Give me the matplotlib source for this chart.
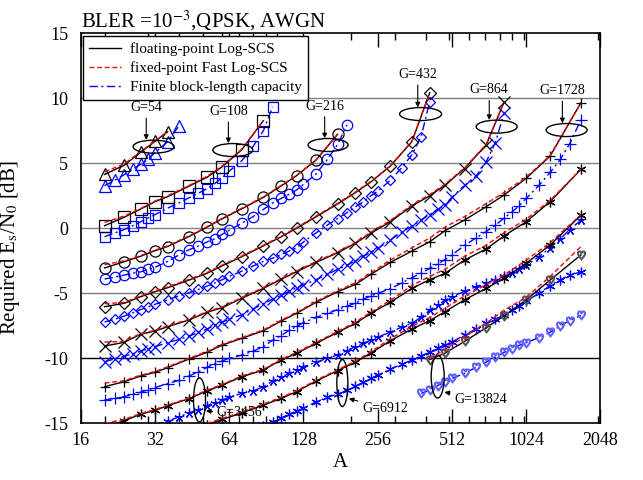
import numpy as np
import matplotlib
matplotlib.use("Agg")
import matplotlib.pyplot as plt
from matplotlib.patches import Ellipse

plt.rcParams['font.family'] = ['Liberation Serif', 'DejaVu Serif']
plt.rcParams['mathtext.fontset'] = 'stix'

# ---------------- data ----------------
# floating-point / fixed-point decoders share the same A points per G
A54 = [20, 24, 28, 32, 36]
float54 = [4.15, 4.85, 5.85, 6.68, 7.43]
fixed54 = [4.35, 4.95, 5.9, 6.72, 7.45]
capA54 = [20, 22, 24, 26, 28, 30, 32, 36, 40]
cap54 = [3.28, 3.69, 4.12, 4.54, 4.92, 5.3, 5.82, 6.66, 7.87]

A108 = [20, 24, 28, 32, 36, 44, 52, 60, 72, 88]
float108 = [0.2, 0.85, 1.48, 2.05, 2.43, 3.25, 3.92, 4.74, 6.05, 8.28]
fixed108 = [0.45, 0.95, 1.52, 2.1, 2.5, 3.3, 4.0, 4.8, 6.1, 8.3]
capA108 = [20, 22, 24, 26, 28, 30, 32, 36, 40, 44, 48, 52, 56, 60, 64, 72, 80, 88, 96]
cap108 = [-0.65, -0.35, -0.1, 0.2, 0.5, 0.8, 1.05, 1.55, 1.95, 2.35, 2.7, 3.05, 3.45, 3.9,
          4.4, 5.2, 6.3, 7.5, 9.35]

A216 = [20, 24, 28, 32, 36, 44, 52, 60, 72, 88, 104, 120, 144, 176]
float216 = [-3.05, -2.57, -2.15, -1.72, -1.4, -0.63, 0.08, 0.74, 1.5, 2.38, 3.26, 4.05, 5.25, 7.23]
fixed216 = [-2.8, -2.5, -2.1, -1.68, -1.35, -0.58, 0.12, 0.78, 1.55, 2.42, 3.3, 4.08, 5.28, 7.25]
capA216 = [20, 22, 24, 26, 28, 30, 32, 36, 40, 44, 48, 52, 56, 60, 64, 72, 80, 88, 96, 104,
           112, 120, 128, 144, 160, 176, 192]
cap216 = [-3.9, -3.75, -3.6, -3.45, -3.35, -3.15, -3.0, -2.55, -2.05, -1.65, -1.35, -1.05, -0.8,
          -0.45, -0.15, 0.4, 0.9, 1.45, 1.95, 2.3, 2.62, 2.95, 3.38, 4.18, 5.3, 6.45, 7.95]

A432 = [20, 24, 28, 32, 36, 44, 52, 60, 72, 88, 104, 120, 144, 176, 208, 240, 288, 352, 416]
float432 = [-6.03, -5.77, -5.26, -4.88, -4.57, -3.98, -3.46, -2.88, -2.18, -1.35, -0.65, 0.0,
            0.89, 1.87, 2.75, 3.56, 4.79, 6.66, 10.43]
fixed432 = [-5.8, -5.7, -5.2, -4.82, -4.5, -3.92, -3.4, -2.82, -2.12, -1.3, -0.6, 0.05,
            0.95, 1.92, 2.8, 3.6, 4.82, 6.68, 10.43]
capA432 = [20, 22, 24, 26, 28, 30, 32, 36, 40, 44, 48, 52, 56, 60, 64, 72, 80, 88, 96, 104,
           112, 120, 128, 144, 160, 176, 192, 208, 224, 240, 256, 288, 320, 352, 384, 416]
cap432 = [-7.2, -7.0, -6.75, -6.5, -6.25, -6.05, -5.85, -5.5, -5.2, -4.95, -4.7, -4.45, -4.2,
          -3.95, -3.7, -3.3, -2.9, -2.55, -2.3, -2.0, -1.75, -1.5, -1.05, -0.35, 0.25, 0.75,
          1.2, 1.65, 2.05, 2.5, 2.85, 3.7, 4.65, 5.65, 7.05, 9.75]

A864 = [20, 24, 28, 32, 36, 44, 52, 60, 72, 88, 104, 120, 144, 176, 208, 240, 288, 352, 416,
        480, 576, 704, 832]
float864 = [-9.06, -8.77, -8.15, -7.9, -7.57, -7.05, -6.46, -6.1, -5.38, -4.62, -3.92, -3.34,
            -2.62, -1.88, -1.15, -0.38, 0.51, 1.72, 2.5, 3.33, 4.6, 6.4, 9.7]
fixed864 = [-8.75, -8.7, -8.1, -7.85, -7.5, -7.0, -6.4, -6.05, -5.32, -4.56, -3.87, -3.28,
            -2.55, -1.82, -1.1, -0.3, 0.6, 1.8, 2.6, 3.4, 4.65, 6.45, 9.7]
capA864 = [20, 22, 24, 26, 28, 30, 32, 36, 40, 44, 48, 52, 56, 60, 64, 72, 80, 88, 96, 104,
           112, 120, 128, 144, 160, 176, 192, 208, 224, 240, 256, 288, 320, 352, 384, 416,
           448, 480, 512, 576, 640, 704, 768, 832]
cap864 = [-10.25, -10.05, -9.85, -9.65, -9.45, -9.28, -9.1, -8.8, -8.55, -8.3, -8.0, -7.75,
          -7.45, -7.2, -7.0, -6.65, -6.2, -5.8, -5.45, -5.15, -4.85, -4.57, -4.35, -3.95,
          -3.55, -3.15, -2.85, -2.5, -2.15, -1.85, -1.55, -0.9, -0.3, 0.15, 0.65, 1.05, 1.45,
          1.8, 2.4, 3.3, 4.0, 5.1, 6.6, 8.85]

A1728 = [20, 24, 28, 32, 36, 44, 52, 60, 72, 88, 104, 120, 144, 176, 208, 240, 288, 352, 416,
         480, 576, 704, 832, 1024, 1280, 1706]
float1728 = [-12.18, -11.8, -11.36, -11.08, -10.72, -10.05, -9.54, -8.98, -8.46, -7.88, -7.13,
             -6.54, -5.69, -4.88, -4.31, -3.54, -2.62, -1.75, -1.03, -0.18, 0.64, 1.66, 2.56,
             3.85, 5.56, 9.66]
fixed1728 = [-11.9, -11.72, -11.3, -11.02, -10.66, -10.0, -9.48, -8.92, -8.4, -7.82, -7.07,
             -6.48, -5.62, -4.8, -4.2, -3.42, -2.45, -1.5, -0.75, 0.1, 0.9, 1.9, 2.75, 3.95,
             5.6, 9.66]
capA1728 = [20, 22, 24, 26, 28, 30, 32, 36, 40, 44, 48, 52, 56, 60, 64, 72, 80, 88, 96, 104,
            112, 120, 128, 144, 160, 176, 192, 208, 224, 240, 256, 288, 320, 352, 384, 416,
            448, 480, 512, 576, 640, 704, 768, 832, 896, 960, 1024, 1152, 1280, 1408, 1536,
            1706]
cap1728 = [-13.2, -13.08, -12.95, -12.78, -12.6, -12.42, -12.25, -11.95, -11.7, -11.35, -11.05,
           -10.7, -10.4, -10.2, -10.0, -9.75, -9.45, -9.1, -8.6, -8.25, -7.85, -7.55, -7.25,
           -6.85, -6.55, -6.25, -6.0, -5.75, -5.45, -5.2, -5.0, -4.65, -4.2, -3.8, -3.45,
           -3.08, -2.75, -2.4, -2.05, -1.3, -0.75, -0.25, 0.25, 0.77, 1.25, 1.75, 2.3, 3.3,
           4.3, 5.3, 6.5, 8.35]

A3456 = [20, 24, 28, 32, 36, 44, 52, 60, 72, 88, 104, 120, 144, 176, 208, 240, 288, 352, 416,
         480, 576, 704, 832, 1024, 1280, 1706]
float3456 = [-15.3, -14.8, -14.3, -14.0, -13.65, -13.1, -12.52, -12.05, -11.42, -10.9, -10.13,
             -9.62, -8.85, -8.0, -7.31, -6.54, -5.69, -4.62, -3.95, -3.46, -2.44, -1.59,
             -0.59, 0.51, 2.05, 4.54]
fixed3456 = [-15.0, -14.7, -14.25, -13.95, -13.6, -13.05, -12.45, -12.0, -11.35, -10.85,
             -10.07, -9.55, -8.78, -7.93, -7.22, -6.45, -5.55, -4.4, -3.7, -3.15, -2.15,
             -1.3, -0.35, 0.7, 2.15, 4.54]
capA3456 = [32, 36, 40, 44, 48, 52, 56, 60, 64, 72, 80, 88, 96, 104, 112, 120, 128, 144, 160,
            176, 192, 208, 224, 240, 256, 288, 320, 352, 384, 416, 448, 480, 512, 576, 640,
            704, 768, 832, 896, 960, 1024, 1152, 1280, 1408, 1536, 1706]
cap3456 = [-15.1, -14.85, -14.5, -14.2, -13.95, -13.65, -13.4, -13.2, -13.0, -12.7, -12.5,
           -12.2, -11.75, -11.45, -11.15, -10.9, -10.65, -10.3, -10.0, -9.75, -9.4, -9.1,
           -8.85, -8.6, -8.35, -8.0, -7.6, -7.3, -6.85, -6.3, -5.9, -5.55, -5.25, -4.85, -4.5,
           -4.2, -3.95, -3.7, -3.4, -3.1, -2.85, -2.2, -1.5, -0.8, -0.1, 0.62]

A6912 = [52, 60, 72, 88, 104, 120, 144, 176, 208, 240, 288, 352, 416, 480, 576, 704, 832,
         1024, 1280, 1706]
float6912 = [-15.1, -14.7, -14.2, -13.6, -13.08, -12.57, -11.75, -10.95, -10.3, -9.6, -8.65,
             -7.75, -7.1, -6.41, -5.5, -4.62, -3.85, -2.69, -1.28, 1.0]
fixed6912 = [-15.0, -14.62, -14.12, -13.52, -13.0, -12.5, -11.68, -10.88, -10.22, -9.5,
             -8.5, -7.55, -6.85, -6.15, -5.2, -4.35, -3.6, -2.45, -1.1, 1.05]
capA6912 = [88, 96, 104, 112, 120, 128, 144, 160, 176, 192, 208, 224, 240, 256, 288, 320, 352,
            384, 416, 448, 480, 512, 576, 640, 704, 768, 832, 896, 960, 1024, 1152, 1280,
            1408, 1536, 1706]
cap6912 = [-15.2, -14.9, -14.6, -14.3, -14.05, -13.85, -13.35, -13.0, -12.75, -12.45, -12.15,
           -11.85, -11.55, -11.3, -10.85, -10.45, -10.15, -9.8, -9.55, -9.2, -8.98, -8.75,
           -8.2, -7.75, -7.31, -7.0, -6.67, -6.3, -5.95, -5.6, -5.0, -4.4, -3.95, -3.6, -3.35]

A13824 = [416, 480, 576, 704, 832, 1024, 1280, 1706]
float13824 = [-10.1, -9.6, -8.7, -7.65, -6.75, -5.5, -3.98, -2.05]
fixed13824 = [-10.0, -9.3, -8.35, -7.3, -6.3, -5.3, -3.7, -1.4]
capA13824 = [384, 416, 448, 480, 512, 576, 640, 704, 768, 832, 896, 960, 1024, 1152, 1280,
             1408, 1536, 1706]
cap13824 = [-12.7, -12.45, -12.1, -11.8, -11.55, -11.15, -10.7, -10.3, -9.9, -9.55, -9.25,
            -9.0, -8.8, -8.4, -8.0, -7.5, -7.1, -6.7]

# G labels: text position, arrow tip, ellipse centre (A, dB) and ellipse size in pixels
g_labels = ['G=54', 'G=108', 'G=216', 'G=432', 'G=864', 'G=1728', 'G=3456', 'G=6912', 'G=13824']
g_text = [(29.5, 9.3), (63.5, 9.0), (156, 9.4), (372, 11.85), (725, 10.65), (1435, 10.6),
          (57, -14.2), (221, -13.85), (523, -13.13)]
g_tip = [(29.5, 6.8), (63.5, 6.55), (156, 6.92), (372, 9.3), (725, 8.33), (1435, 8.08),
         (51.5, -14.05), (195.5, -13.1), (477, -12.6)]
g_ell = [(31.6, 6.28), (66.2, 6.02), (161, 6.41), (382, 8.79), (777, 7.82), (1493, 7.56),
         (48.5, -13.2), (184, -11.9), (448, -11.4)]
g_ell_px = [(41, 13), (40, 13), (40, 13), (42, 13), (41, 13), (41, 13),
            (12, 44), (11, 47), (13, 43)]

x_major = [16, 32, 64, 128, 256, 512, 1024, 2048]
x_minor = [20, 30, 40, 50, 60, 70, 80, 90, 100, 200, 300, 400, 500, 600, 700, 800, 900,
           1000, 2000]
y_ticks = [-15, -10, -5, 0, 5, 10, 15]

# ---------------- figure ----------------
fig = plt.figure(figsize=(6.43, 4.80), dpi=100)
ax = fig.add_axes([0.1255, 0.1181, 0.8084, 0.8125])

for yv in [10, 5, 0, -5]:
    ax.axhline(yv, color='#808080', lw=1.0, zorder=1)
ax.axhline(-10, color='k', lw=1.0, zorder=1)

HEART = r'$\heartsuit$'
groups = [
    (A54, float54, fixed54, capA54, cap54, '^', '^', 8, 8, 'k', 'blue'),
    (A108, float108, fixed108, capA108, cap108, 's', 's', 8, 7, 'k', 'blue'),
    (A216, float216, fixed216, capA216, cap216, 'o', 'o', 8, 7.5, 'k', 'blue'),
    (A432, float432, fixed432, capA432, cap432, 'D', 'D', 6, 5.5, 'k', 'blue'),
    (A864, float864, fixed864, capA864, cap864, 'x', 'x', 8, 8, 'k', 'blue'),
    (A1728, float1728, fixed1728, capA1728, cap1728, '+', '+', 7, 8, 'k', 'blue'),
    (A3456, float3456, fixed3456, capA3456, cap3456, (6, 2, 0), (5, 2, 0), 7, 7, 'k', 'blue'),
    (A6912, float6912, fixed6912, capA6912, cap6912, (6, 2, 0), (6, 2, 0), 7, 7, 'k', 'blue'),
    (A13824, float13824, fixed13824, capA13824, cap13824, HEART, HEART, 6.5, 6.5,
     '#555555', '#6060ff'),
]

for A, fl, fx, cA, cp, mk, mkc, ms, msc, kcol, bcol in groups:
    ax.plot(cA, cp, color='blue', ls=(0, (6, 2.5, 1.5, 2.5)), lw=1.0, marker=mkc, ms=msc,
            mfc='none', mec=bcol, mew=0.9, zorder=2)
    ax.plot(A, fl, color='k', lw=1.0, marker=mk, ms=ms, mfc='none', mec=kcol, mew=0.9, zorder=3)
    ax.plot(A, fx, color='red', ls=(0, (3.5, 2)), lw=1.0, zorder=4)

# legend proxies
h1, = ax.plot([], [], color='k', lw=1.0, label='floating-point Log-SCS')
h2, = ax.plot([], [], color='red', ls=(0, (3.5, 2)), lw=1.0, label='fixed-point Fast Log-SCS')
h3, = ax.plot([], [], color='blue', ls=(0, (6, 2.5, 1.5, 2.5)), lw=1.0,
              label='Finite block-length capacity')
leg = ax.legend(handles=[h1, h2, h3], loc='upper left', bbox_to_anchor=(0.004, 0.993),
                borderaxespad=0, fontsize=11, frameon=True, fancybox=False,
                edgecolor='k', framealpha=1, handlelength=2.1, labelspacing=0.35,
                borderpad=0.4, handletextpad=0.6)
leg.get_frame().set_linewidth(1.0)
leg.set_zorder(10)

# ellipses (drawn in axes fraction so they stay elliptic on the log axis)
ax_w, ax_h = 520.0, 390.0
for (eA, edb), (wpx, hpx) in zip(g_ell, g_ell_px):
    cx = (np.log2(eA) - 4) / 7
    cy = (edb + 15) / 30
    ax.add_patch(Ellipse((cx, cy), wpx / ax_w, hpx / ax_h, transform=ax.transAxes,
                         fill=False, ec='k', lw=1.0, zorder=6))

for i, (lab, tpos, tip) in enumerate(zip(g_labels, g_text, g_tip)):
    ha = 'center' if i < 6 else 'left'
    ax.annotate(lab, xy=tip, xytext=tpos, ha=ha, va='center', fontsize=10, zorder=7,
                arrowprops=dict(arrowstyle='-|>', color='k', lw=0.8, mutation_scale=7,
                                shrinkA=1, shrinkB=0))

ax.set_xscale('log', base=2)
ax.set_xlim(16, 2048)
ax.set_ylim(-15, 15)
ax.set_xticks(x_major)
ax.set_xticklabels([str(v) for v in x_major])
ax.set_xticks(x_minor, minor=True)
ax.set_xticklabels([], minor=True)
ax.set_yticks(y_ticks)
ax.set_yticklabels([str(v) for v in y_ticks])
ax.tick_params(axis='x', which='major', direction='in', length=10, width=1, top=True,
               labelsize=13, pad=6)
ax.tick_params(axis='x', which='minor', direction='in', length=5, width=1, top=True)
ax.tick_params(axis='y', which='both', length=0, labelsize=13, pad=9)
for sp in ax.spines.values():
    sp.set_linewidth(1.2)

ax.set_xlabel('A', fontsize=15, labelpad=3)
ax.set_ylabel(r'Required E$_\mathrm{s}$/N$_0$ [dB]', fontsize=15)
ax.yaxis.set_label_coords(-0.113, 0.45)
ax.set_title(r'BLER =10$^{-3}$,QPSK, AWGN', loc='left', fontsize=15, pad=3)

fig.savefig('out.png', dpi=100)
